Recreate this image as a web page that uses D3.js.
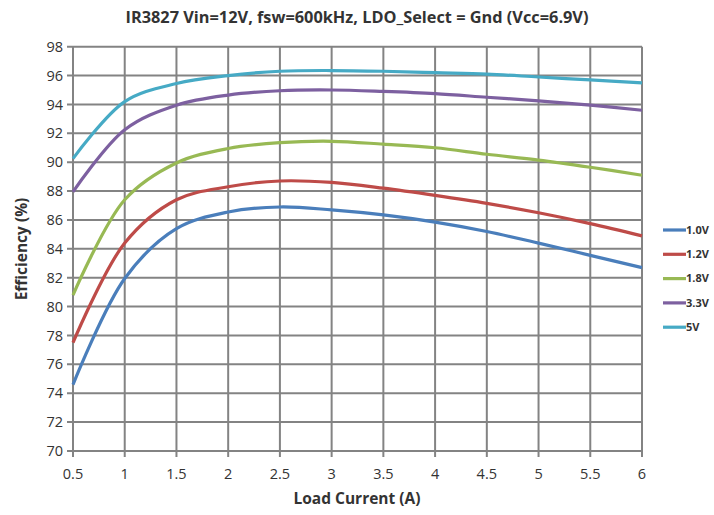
<!DOCTYPE html>
<html><head><meta charset="utf-8">
<script src="https://cdn.jsdelivr.net/npm/d3@7"></script>
<style>body{margin:0;background:#fff}svg{display:block}</style>
</head><body>
<svg id="c" width="714" height="515"></svg>
<script>
const loadCurrent = [0.5,1,1.5,2,2.5,3,3.5,4,4.5,5,5.5,6];
const seriesNames = ["1.0V","1.2V","1.8V","3.3V","5V"];
const eff_1v0 = [74.6,81.95,85.4,86.55,86.9,86.7,86.35,85.85,85.2,84.4,83.55,82.7];
const eff_1v2 = [77.5,84.4,87.4,88.3,88.7,88.6,88.2,87.7,87.15,86.5,85.75,84.9];
const eff_1v8 = [80.8,87.4,89.95,90.95,91.35,91.45,91.25,91.0,90.55,90.15,89.65,89.1];
const eff_3v3 = [87.95,92.25,93.95,94.65,94.95,95.0,94.9,94.75,94.5,94.25,93.95,93.6];
const eff_5v  = [90.25,94.2,95.45,96.0,96.3,96.35,96.3,96.2,96.1,95.9,95.7,95.5];
const xTicks = [0.5,1,1.5,2,2.5,3,3.5,4,4.5,5,5.5,6];
const yTicks = [70,72,74,76,78,80,82,84,86,88,90,92,94,96,98];
const colors = ["#4a7ebb","#be4b48","#98b954","#7d60a0","#46aac5"];

const allSeries = [eff_1v0,eff_1v2,eff_1v8,eff_3v3,eff_5v];
const svg = d3.select("#c");
const L=73, R=642, T=46.7, B=451;
const x = d3.scaleLinear().domain([0.5,6]).range([L,R]);
const y = d3.scaleLinear().domain([70,98]).range([B,T]);
const grid="#838383";
const txt="#333";

// grid
svg.append("g").selectAll("line").data(yTicks).join("line")
  .attr("x1",L-6).attr("x2",R).attr("y1",d=>y(d)).attr("y2",d=>y(d))
  .attr("stroke",grid).attr("stroke-width",2);
svg.append("g").selectAll("line").data(xTicks).join("line")
  .attr("x1",d=>x(d)).attr("x2",d=>x(d)).attr("y1",T).attr("y2",B+6)
  .attr("stroke",grid).attr("stroke-width",2);

// tick labels
svg.append("g").selectAll("text").data(yTicks).join("text")
  .attr("x",L-10).attr("y",d=>y(d)).attr("dy","0.35em").attr("text-anchor","end")
  .attr("font-family","Open Sans, sans-serif").attr("font-size",14.5).attr("fill",txt)
  .text(d=>d);
svg.append("g").selectAll("text").data(xTicks).join("text")
  .attr("x",d=>x(d)).attr("y",B+28).attr("text-anchor","middle")
  .attr("font-family","Open Sans, sans-serif").attr("font-size",14.5).attr("fill",txt)
  .text(d=>d);

// lines
const line = d3.line().x((d,i)=>x(loadCurrent[i])).y(d=>y(d)).curve(d3.curveCatmullRom.alpha(0.5));
svg.append("g").selectAll("path").data(allSeries).join("path")
  .attr("d",line).attr("fill","none").attr("stroke",(d,i)=>colors[i])
  .attr("stroke-width",3.2).attr("stroke-linejoin","round");

// titles
svg.append("text").attr("x",357).attr("y",23).attr("text-anchor","middle")
  .attr("font-family","Open Sans, sans-serif").attr("font-weight","bold").attr("font-size",15.5).attr("fill",txt)
  .attr("textLength",463).attr("lengthAdjust","spacingAndGlyphs")
  .text("IR3827 Vin=12V, fsw=600kHz, LDO_Select = Gnd (Vcc=6.9V)");
svg.append("text").attr("x",357).attr("y",504).attr("text-anchor","middle")
  .attr("font-family","Open Sans, sans-serif").attr("font-weight","bold").attr("font-size",15.5).attr("fill",txt)
  .text("Load Current (A)");
svg.append("text").attr("transform","translate(27,249) rotate(-90)").attr("text-anchor","middle")
  .attr("font-family","Open Sans, sans-serif").attr("font-weight","bold").attr("font-size",15.5).attr("fill",txt)
  .text("Efficiency (%)");

// legend
const lg = svg.append("g").selectAll("g").data(seriesNames).join("g")
  .attr("transform",(d,i)=>`translate(663,${230+i*24.3})`);
lg.append("line").attr("x1",0).attr("x2",23).attr("stroke",(d,i)=>colors[i]).attr("stroke-width",3.2);
lg.append("text").attr("x",23).attr("dy","0.35em")
  .attr("font-family","Open Sans, sans-serif").attr("font-weight","bold").attr("font-size",11).attr("fill",txt)
  .text(d=>d);
</script>
</body></html>
